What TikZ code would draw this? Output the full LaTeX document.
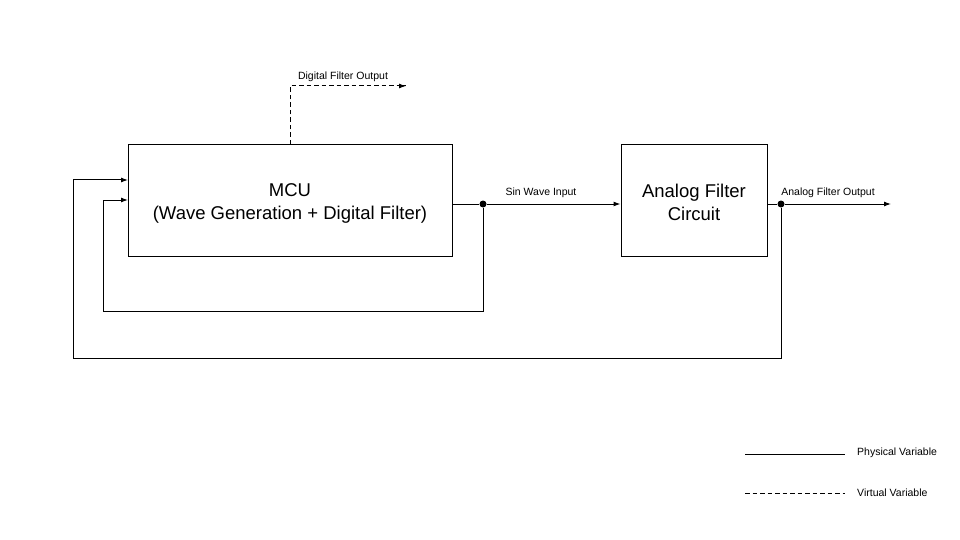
\documentclass[tikz,border=0pt]{standalone}
\usepackage{fontspec}
\setmainfont{Liberation Sans}
\usetikzlibrary{arrows.meta}
\begin{document}
\begin{tikzpicture}[x=1pt,y=-1pt,
  blk/.style={draw,line width=1pt,minimum width=#1,minimum height=111pt,inner sep=0pt},
  btxt/.style={inner sep=0pt,font=\fontsize{18.5}{23}\selectfont,align=center},
  conn/.style={line width=1pt,-{Latex[length=7pt,width=5pt]}},
  plain/.style={line width=1pt},
  virt/.style={line width=1pt,dash pattern=on 4.5pt off 3pt},
  lbl/.style={font=\fontsize{10.5}{12}\selectfont,inner sep=0pt},
  jdot/.style={circle,fill,inner sep=0pt,minimum size=7pt}]
\useasboundingbox (0,0) rectangle (960,540);
\node[blk=324pt] (mcu) at (290,200.5) {};
\node[blk=146pt] (afc) at (694,200.5) {};
\node[btxt] (mcut) at (290,203) {MCU\\(Wave Generation + Digital Filter)};
\node[btxt] (afct) at (694,202) {Analog Filter\\Circuit};
\node[jdot] (j1) at (483,204) {};
\node[jdot] (j2) at (781,204) {};
\coordinate (out) at (891,204);
\coordinate (dtop) at (290,86);
\coordinate (dend) at (406,86);
\coordinate (in1) at (128,200);
\coordinate (in2) at (128,180);
% signal path
\draw[plain] (mcu.east |- j1) -- (j1);
\draw[conn] (j1) -- (afc.west |- j1);
\draw[plain] (afc.east |- j2) -- (j2);
\draw[conn] (j2) -- (out);
% feedback loops
\draw[conn] (j1) -- (483,311) -- (103,311) -- (103,200) -- (in1);
\draw[conn] (j2) -- (781,358) -- (73,358) -- (73,180) -- (in2);
% digital output
\draw[virt] (mcu.north -| dtop) -- (dtop) -- (dend);
\draw[line width=1pt,-{Latex[length=7pt,width=5pt]}] (dend) ++(-1,0) -- (dend);
% labels
\node[lbl] (ldf) at (343,77) {Digital Filter Output};
\node[lbl] (lsin) at (541,192.5) {Sin Wave Input};
\node[lbl] (laf) at (828,192.5) {Analog Filter Output};
% legend
\coordinate (p1) at (745,454);
\coordinate (p2) at (845,454);
\coordinate (v1) at (745,493);
\coordinate (v2) at (845,493);
\draw[plain] (p1) -- (p2);
\draw[virt] (v1) -- (v2);
\node[lbl,anchor=west] (lp) at (857,452.5) {Physical Variable};
\node[lbl,anchor=west] (lv) at (857,492.5) {Virtual Variable};
\end{tikzpicture}
\end{document}
